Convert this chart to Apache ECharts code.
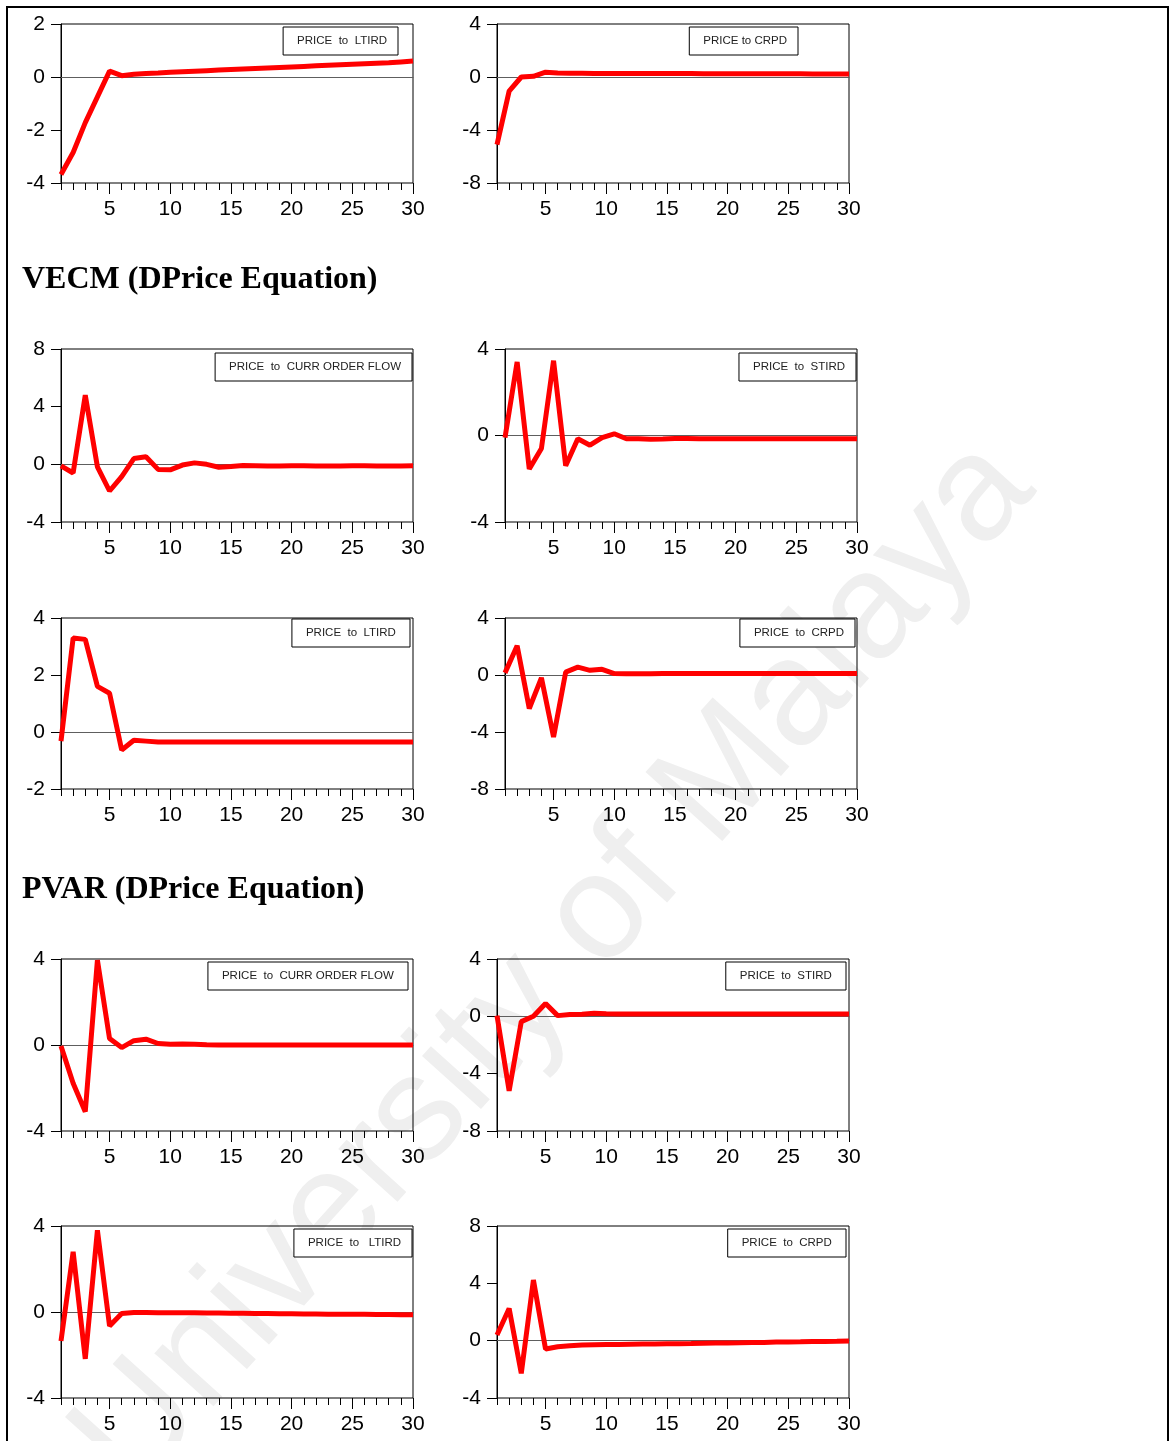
<!DOCTYPE html>
<html lang="en">
<head>
  <meta charset="UTF-8">
  <title>Impulse responses</title>
  <script src="https://cdn.jsdelivr.net/npm/echarts/dist/echarts.min.js"></script>
  <style>
    html, body { margin: 0; padding: 0; background: #fff; }
    #main { width: 1171px; height: 1441px; }
  </style>
</head>
<body>
<div id="main"></div>
<script>
  // periods of the response
  var periods = [1,2,3,4,5,6,7,8,9,10,11,12,13,14,15,16,17,18,19,20,21,22,23,24,25,26,27,28,29,30];

  // top row (section before VECM)
  var topLtird = [-3.68,-2.85,-1.72,-0.75,0.22,0.05,0.10,0.13,0.15,0.18,0.20,0.22,0.24,0.26,0.28,0.30,0.32,0.34,0.36,0.38,0.40,0.42,0.44,0.46,0.48,0.50,0.52,0.54,0.57,0.60];
  var topCrpd  = [-5.10,-1.07,0.00,0.05,0.36,0.30,0.28,0.28,0.27,0.27,0.27,0.27,0.26,0.26,0.26,0.26,0.26,0.25,0.25,0.25,0.25,0.25,0.24,0.24,0.24,0.24,0.23,0.23,0.23,0.23];
  // VECM (DPrice Equation)
  var vecmCof   = [-0.10,-0.60,4.80,-0.17,-1.85,-0.85,0.40,0.52,-0.35,-0.38,-0.05,0.10,0.00,-0.20,-0.15,-0.08,-0.10,-0.12,-0.12,-0.10,-0.10,-0.11,-0.12,-0.11,-0.10,-0.10,-0.12,-0.12,-0.11,-0.10];
  var vecmStird = [-0.10,3.40,-1.55,-0.60,3.46,-1.40,-0.15,-0.45,-0.10,0.08,-0.15,-0.15,-0.17,-0.16,-0.14,-0.14,-0.15,-0.15,-0.15,-0.15,-0.15,-0.15,-0.15,-0.15,-0.15,-0.15,-0.15,-0.15,-0.15,-0.15];
  var vecmLtird = [-0.32,3.30,3.25,1.60,1.36,-0.63,-0.29,-0.32,-0.35,-0.35,-0.35,-0.35,-0.35,-0.35,-0.35,-0.35,-0.35,-0.35,-0.35,-0.35,-0.35,-0.35,-0.35,-0.35,-0.35,-0.35,-0.35,-0.35,-0.35,-0.35];
  var vecmCrpd  = [0.15,2.05,-2.35,-0.20,-4.35,0.20,0.55,0.33,0.40,0.10,0.08,0.08,0.09,0.10,0.10,0.10,0.10,0.10,0.10,0.10,0.10,0.10,0.10,0.10,0.10,0.10,0.10,0.10,0.10,0.10];
  // PVAR (DPrice Equation)
  var pvarCof   = [-0.05,-1.78,-3.10,3.95,0.30,-0.12,0.20,0.27,0.07,0.03,0.05,0.03,0.01,0.00,0.00,0.00,0.00,0.00,0.00,0.00,0.00,0.00,0.00,0.00,0.00,0.00,0.00,0.00,0.00,0.00];
  var pvarStird = [0.05,-5.20,-0.37,0.00,0.90,0.05,0.12,0.15,0.22,0.18,0.17,0.17,0.17,0.17,0.17,0.17,0.17,0.17,0.17,0.17,0.17,0.17,0.17,0.17,0.17,0.17,0.17,0.17,0.17,0.17];
  var pvarLtird = [-1.35,2.80,-2.18,3.80,-0.65,-0.07,-0.02,-0.02,-0.03,-0.03,-0.04,-0.04,-0.05,-0.05,-0.06,-0.06,-0.07,-0.07,-0.08,-0.08,-0.09,-0.09,-0.10,-0.10,-0.11,-0.11,-0.12,-0.12,-0.13,-0.13];
  var pvarCrpd  = [0.40,2.25,-2.28,4.23,-0.58,-0.42,-0.35,-0.30,-0.28,-0.27,-0.26,-0.25,-0.24,-0.23,-0.22,-0.21,-0.20,-0.18,-0.17,-0.16,-0.15,-0.13,-0.12,-0.10,-0.09,-0.08,-0.06,-0.05,-0.04,-0.02];

  var seriesNames = ['PRICE  to  LTIRD','PRICE to CRPD','PRICE  to  CURR ORDER FLOW','PRICE  to  STIRD','PRICE  to  LTIRD ',
                     'PRICE  to  CRPD','PRICE  to  CURR ORDER FLOW ','PRICE  to  STIRD ','PRICE  to   LTIRD','PRICE  to  CRPD '];
  var seriesData = [topLtird, topCrpd, vecmCof, vecmStird, vecmLtird, vecmCrpd, pvarCof, pvarStird, pvarLtird, pvarCrpd];
  // y axis [min, max, step]
  var yScales = [[-4,2,2],[-8,4,4],[-4,8,4],[-4,4,4],[-2,4,2],[-8,4,4],[-4,4,4],[-8,4,4],[-4,4,4],[-4,8,4]];

  // panel boxes: left, top, height  (width is always 352)
  var boxes = [[61,24,159],[497,24,159],[61,349,173],[505,349,173],[61,618,171],
               [505,618,171],[61,959,172],[497,959,172],[61,1226,172],[497,1226,172]];
  // legend box: right offset from page edge, top
  var legendPos = [[773,27],[373,27],[759,353],[315,353],[761,619],[316,619],[763,962],[325,962],[759,1229],[325,1229]];

  var grids = [], xAxes = [], yAxes = [], series = [], legends = [];
  var font = 'Liberation Sans, Arial, sans-serif';

  for (var i = 0; i < 10; i++) {
    var b = boxes[i];
    grids.push({
      left: b[0], top: b[1], width: 352, height: b[2],
      show: true, borderColor: '#000', borderWidth: 1, backgroundColor: 'transparent',
      containLabel: false, outerBoundsMode: 'none'
    });
    // minor ticks at every period
    xAxes.push({
      type: 'category', gridIndex: i, data: periods, boundaryGap: false, position: 'bottom',
      axisLine: { show: false, onZero: false },
      axisTick: { show: true, interval: 0, length: 7, lineStyle: { color: '#000', width: 1 } },
      axisLabel: { show: false }, splitLine: { show: false }
    });
    // major ticks + labels every 5
    xAxes.push({
      type: 'category', gridIndex: i, data: periods, boundaryGap: false, position: 'bottom',
      axisLine: { show: false, onZero: false },
      axisTick: { show: true, length: 11, lineStyle: { color: '#000', width: 1 },
        interval: function (idx, val) { return Number(val) % 5 === 0; } },
      axisLabel: { show: true, color: '#000', fontSize: 21, fontFamily: font, margin: 16,
        interval: function (idx, val) { return Number(val) % 5 === 0; } },
      splitLine: { show: false }
    });
    // zero line
    xAxes.push({
      type: 'category', gridIndex: i, data: periods, boundaryGap: false,
      axisLine: { show: true, onZero: true, lineStyle: { color: '#5e5e5e', width: 1 } },
      axisTick: { show: false }, axisLabel: { show: false }, splitLine: { show: false }
    });
    yAxes.push({
      type: 'value', gridIndex: i, min: yScales[i][0], max: yScales[i][1], interval: yScales[i][2],
      axisLine: { show: true, lineStyle: { color: '#000' } },
      axisTick: { show: true, length: 10, lineStyle: { color: '#000' } },
      axisLabel: { color: '#000', fontSize: 21, fontFamily: font, margin: 16 },
      splitLine: { show: false }
    });
    series.push({
      name: seriesNames[i], type: 'line', xAxisIndex: i * 3, yAxisIndex: i,
      data: seriesData[i], showSymbol: false, symbol: 'none', z: 3,
      lineStyle: { color: '#ff0000', width: 5 }, itemStyle: { color: '#ff0000' }
    });
    legends.push({
      data: [seriesNames[i]], right: legendPos[i][0], top: legendPos[i][1],
      icon: 'rect', itemWidth: 0, itemHeight: 0, itemGap: 0, selectedMode: false,
      padding: [8, 11, 8, 9], borderColor: '#000', borderWidth: 1, backgroundColor: '#fff',
      textStyle: { color: '#222', fontSize: 11.5, fontFamily: font }
    });
  }

  var myChart = echarts.init(document.getElementById('main'), null, { renderer: 'canvas' });
  var option = {
    animation: false,
    backgroundColor: '#fff',
    grid: grids,
    xAxis: xAxes,
    yAxis: yAxes,
    legend: legends,
    series: series,
    graphic: [
      { // watermark
        type: 'text', z: -10, x: 555, y: 965, rotation: 48 * Math.PI / 180,
        style: { text: 'University of Malaya', fill: '#efefef', fontSize: 150,
          fontFamily: font, textAlign: 'center', textVerticalAlign: 'middle' }
      },
      { // page frame
        type: 'rect', z: 5, shape: { x: 7, y: 7, width: 1161, height: 1470 },
        style: { fill: 'none', stroke: '#000', lineWidth: 2 }
      },
      {
        type: 'text', z: 5, x: 22, y: 280,
        style: { text: 'VECM (DPrice Equation)', fill: '#000', fontSize: 32, fontWeight: 'bold',
          fontFamily: 'Liberation Serif, Times New Roman, serif', textVerticalAlign: 'middle' }
      },
      {
        type: 'text', z: 5, x: 22, y: 890,
        style: { text: 'PVAR (DPrice Equation)', fill: '#000', fontSize: 32, fontWeight: 'bold',
          fontFamily: 'Liberation Serif, Times New Roman, serif', textVerticalAlign: 'middle' }
      }
    ]
  };
  myChart.setOption(option);
</script>
</body>
</html>
